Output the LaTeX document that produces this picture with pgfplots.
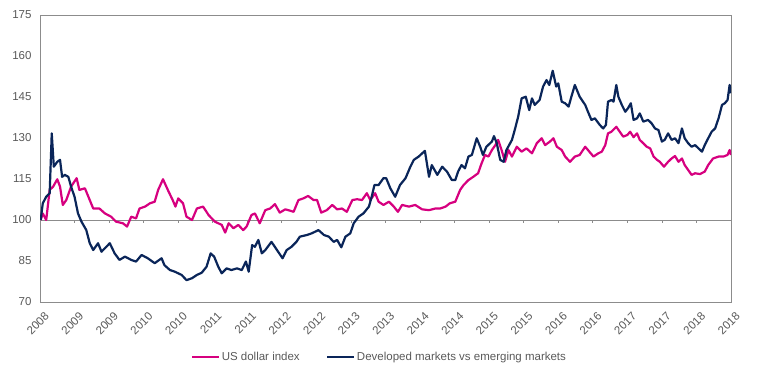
\documentclass[border=0pt]{standalone}
\usepackage{fontspec}
\setmainfont{Liberation Sans}
\usepackage{pgfplots}
\pgfplotsset{compat=1.18}
\definecolor{pinkline}{HTML}{D6007F}
\definecolor{navyline}{HTML}{0A2559}
\definecolor{framegray}{HTML}{8C8C8C}
\definecolor{textgray}{HTML}{595959}
\begin{document}
\begin{tikzpicture}[font=\fontsize{11.5bp}{13.5bp}\selectfont]
\useasboundingbox (-40bp,-76bp) rectangle (717bp,302bp);
\begin{axis}[
  scale only axis, width=691bp, height=287bp,
  at={(0,0)}, anchor=south west,
  xmin=2008.5, xmax=2018.5, ymin=70, ymax=175,
  axis line style={framegray, line width=0.8bp},
  ytick={70,85,100,115,130,145,160,175},
  xtick={2008.5,2009,2009.5,2010,2010.5,2011,2011.5,2012,2012.5,2013,2013.5,2014,2014.5,2015,2015.5,2016,2016.5,2017,2017.5,2018,2018.5},
  xticklabels={2008,2009,2009,2010,2010,2011,2011,2012,2012,2013,2013,2014,2014,2015,2015,2016,2016,2017,2017,2018,2018},
  tick style={draw=none},
  /pgf/number format/assume math mode=true,
  /pgf/number format/1000 sep={},
  ticklabel style={font=\fontsize{11.5bp}{13.5bp}\selectfont, text=textgray},
  yticklabel style={xshift=-5bp},
  xticklabel style={xshift=4bp, yshift=-9bp, rotate=45, anchor=north east, inner sep=0pt},
  legend columns=2,
  legend style={at={(0.491,-0.192)}, anchor=center, draw=none, fill=none,
    font=\fontsize{11.5bp}{13.5bp}\selectfont, text=textgray,
    nodes={inner xsep=1.5bp},
    /tikz/every even column/.append style={column sep=25bp}},
  legend image code/.code={\draw[#1] (0bp,0bp) -- (27bp,0bp);},
]
\draw[framegray, line width=0.8bp] (axis cs:2008.5,100) -- (axis cs:2018.5,100);
\pgfplotsinvokeforeach{2008.5,2009,2009.5,2010,2010.5,2011,2011.5,2012,2012.5,2013,2013.5,2014,2014.5,2015,2015.5,2016,2016.5,2017,2017.5,2018,2018.5}{
  \draw[framegray, line width=0.8bp] (axis cs:#1,100) -- ++(0pt,-3bp);
}
\addplot[pinkline, line width=2.2bp, line join=round] coordinates {
(2008.51,100) (2008.54,102.4) (2008.59,100) (2008.64,111) (2008.69,112.2) (2008.75,114.9) (2008.79,112.2) (2008.83,105.5) (2008.88,107.3) (2008.95,112.2) (2009.03,115.3) (2009.07,111) (2009.15,111.6) (2009.22,107.3) (2009.27,104.2) (2009.36,104.2) (2009.44,102.4) (2009.53,101.2) (2009.60,99.4) (2009.70,98.8) (2009.76,97.6) (2009.82,101.2) (2009.89,100.6) (2009.94,104.2) (2010.02,104.9) (2010.09,106.1) (2010.16,106.7) (2010.21,111) (2010.28,114.9) (2010.35,111) (2010.42,107.3) (2010.46,104.9) (2010.50,107.9) (2010.57,106.1) (2010.62,101.2) (2010.70,100) (2010.77,104.2) (2010.86,104.9) (2010.94,101.8) (2011.03,99.4) (2011.13,98.2) (2011.18,95.4) (2011.23,98.8) (2011.30,97) (2011.37,98.2) (2011.44,96.3) (2011.49,97.6) (2011.56,101.8) (2011.61,102.4) (2011.68,98.8) (2011.76,103.6) (2011.83,104.2) (2011.90,105.8) (2011.97,102.7) (2012.05,103.9) (2012.12,103.4) (2012.17,103) (2012.24,107.3) (2012.31,107.9) (2012.38,108.8) (2012.46,107.3) (2012.51,107.3) (2012.57,102.7) (2012.65,103.6) (2012.73,105.5) (2012.80,103.9) (2012.87,104.2) (2012.94,103) (2013.02,107.3) (2013.09,107.6) (2013.16,107.3) (2013.23,109.8) (2013.28,107.3) (2013.35,109.8) (2013.40,106.7) (2013.47,105.5) (2013.55,106.7) (2013.62,104.9) (2013.68,103) (2013.74,105.5) (2013.84,104.9) (2013.93,105.5) (2014.03,103.9) (2014.13,103.6) (2014.22,104.2) (2014.29,104.2) (2014.37,104.9) (2014.43,106.1) (2014.51,106.7) (2014.58,111) (2014.63,112.8) (2014.70,114.6) (2014.77,115.8) (2014.84,117.1) (2014.89,120.7) (2014.94,123.8) (2014.99,123.2) (2015.04,125.6) (2015.09,127.4) (2015.13,129.3) (2015.18,125.6) (2015.23,121.3) (2015.28,125.6) (2015.33,123.2) (2015.40,126.8) (2015.47,125) (2015.54,126.2) (2015.62,124.4) (2015.69,128.1) (2015.76,129.9) (2015.81,127.4) (2015.88,128.7) (2015.93,129.9) (2015.98,126.8) (2016.05,125.6) (2016.10,123.2) (2016.17,121.3) (2016.24,123.2) (2016.31,123.8) (2016.39,126.8) (2016.46,124.7) (2016.51,123.2) (2016.58,124.4) (2016.63,125) (2016.68,127.4) (2016.72,131.7) (2016.77,132.3) (2016.84,134.1) (2016.89,132.3) (2016.94,130.5) (2017.00,131.1) (2017.04,132.3) (2017.09,130.3) (2017.14,131.7) (2017.18,129.3) (2017.23,128.1) (2017.28,126.8) (2017.33,126.2) (2017.38,123.2) (2017.43,122) (2017.47,121.3) (2017.53,119.5) (2017.59,121.3) (2017.64,122.5) (2017.69,123.4) (2017.74,121.3) (2017.79,122.5) (2017.83,120.1) (2017.88,118.3) (2017.93,116.5) (2017.98,117.1) (2018.05,116.8) (2018.12,117.7) (2018.17,120.1) (2018.24,122.5) (2018.32,123.2) (2018.39,123.2) (2018.45,123.8) (2018.48,125.6) (2018.50,123.8)
};
\addlegendentry{US dollar index}
\addplot[navyline, line width=2.2bp, line join=round] coordinates {
(2008.51,100) (2008.54,106.1) (2008.59,108.5) (2008.64,109.8) (2008.67,131.7) (2008.70,119.5) (2008.75,121.3) (2008.79,122) (2008.82,115.8) (2008.86,116.5) (2008.91,115.8) (2008.95,112.2) (2009.00,108.5) (2009.05,102.4) (2009.10,99.4) (2009.17,96.3) (2009.22,91.5) (2009.27,89) (2009.34,91.5) (2009.39,88.4) (2009.51,91.5) (2009.58,87.8) (2009.65,85.4) (2009.73,86.6) (2009.82,85.4) (2009.89,84.8) (2009.97,87.2) (2010.06,86) (2010.16,84.2) (2010.26,86) (2010.30,83.5) (2010.38,81.7) (2010.45,81.1) (2010.55,79.9) (2010.62,78) (2010.70,78.7) (2010.77,79.9) (2010.84,80.7) (2010.91,82.9) (2010.97,87.8) (2011.02,86.6) (2011.08,82.9) (2011.13,80.5) (2011.20,82.3) (2011.27,81.7) (2011.35,82.3) (2011.42,81.7) (2011.48,84.8) (2011.52,81.1) (2011.57,90.8) (2011.61,90.2) (2011.66,92.7) (2011.71,87.8) (2011.76,89) (2011.85,92) (2011.93,89) (2012.01,86) (2012.07,89) (2012.14,90.2) (2012.21,92) (2012.26,93.9) (2012.36,94.5) (2012.43,95.1) (2012.53,96.3) (2012.61,94.5) (2012.68,93.9) (2012.75,92) (2012.80,92.7) (2012.86,90) (2012.92,93.9) (2012.99,95.1) (2013.04,98.8) (2013.11,101.2) (2013.18,102.4) (2013.26,104.9) (2013.30,108.5) (2013.34,112.8) (2013.40,112.8) (2013.47,115.3) (2013.51,115.3) (2013.57,111.6) (2013.64,108.5) (2013.71,112.8) (2013.79,115.3) (2013.86,119.5) (2013.91,122) (2013.98,123.2) (2014.07,125.3) (2014.13,115.8) (2014.17,120.1) (2014.25,116.5) (2014.32,119.5) (2014.39,117.7) (2014.46,114.6) (2014.51,114.6) (2014.55,117.7) (2014.60,120.1) (2014.65,118.9) (2014.70,123.2) (2014.75,123.8) (2014.82,129.9) (2014.87,126.8) (2014.91,123.8) (2014.96,126.8) (2015.04,128.7) (2015.07,130.7) (2015.11,128.1) (2015.16,122) (2015.21,121.3) (2015.25,125.6) (2015.33,129.3) (2015.37,132.9) (2015.42,137.8) (2015.47,144.5) (2015.53,145.1) (2015.58,140.2) (2015.62,144.5) (2015.66,142.1) (2015.73,143.9) (2015.78,148.8) (2015.83,151.2) (2015.87,149.4) (2015.92,154.6) (2015.97,148.8) (2016.00,150) (2016.05,143.3) (2016.10,142.7) (2016.15,141.5) (2016.19,145.1) (2016.24,149.4) (2016.31,145.1) (2016.39,142.1) (2016.43,139.6) (2016.48,136.6) (2016.53,137.2) (2016.60,134.8) (2016.65,133.5) (2016.69,134.8) (2016.72,143.3) (2016.77,143.9) (2016.80,143.3) (2016.84,149.4) (2016.87,145.1) (2016.92,142.1) (2016.97,139.6) (2017.01,140.9) (2017.05,142.7) (2017.09,136.6) (2017.14,137.2) (2017.18,139) (2017.23,136) (2017.30,136.6) (2017.35,135.4) (2017.40,133.5) (2017.45,132.9) (2017.50,128.7) (2017.54,129.3) (2017.59,131.7) (2017.64,129.3) (2017.69,129.9) (2017.74,128.1) (2017.79,133.5) (2017.83,129.9) (2017.88,128.1) (2017.93,126.8) (2017.98,127.4) (2018.03,126.2) (2018.08,125) (2018.12,127.4) (2018.17,129.9) (2018.22,132.3) (2018.27,133.5) (2018.32,137.2) (2018.37,142.1) (2018.41,142.7) (2018.45,143.9) (2018.48,149.4) (2018.50,146.4)
};
\addlegendentry{Developed markets vs emerging markets}
\end{axis}
\end{tikzpicture}
\end{document}
